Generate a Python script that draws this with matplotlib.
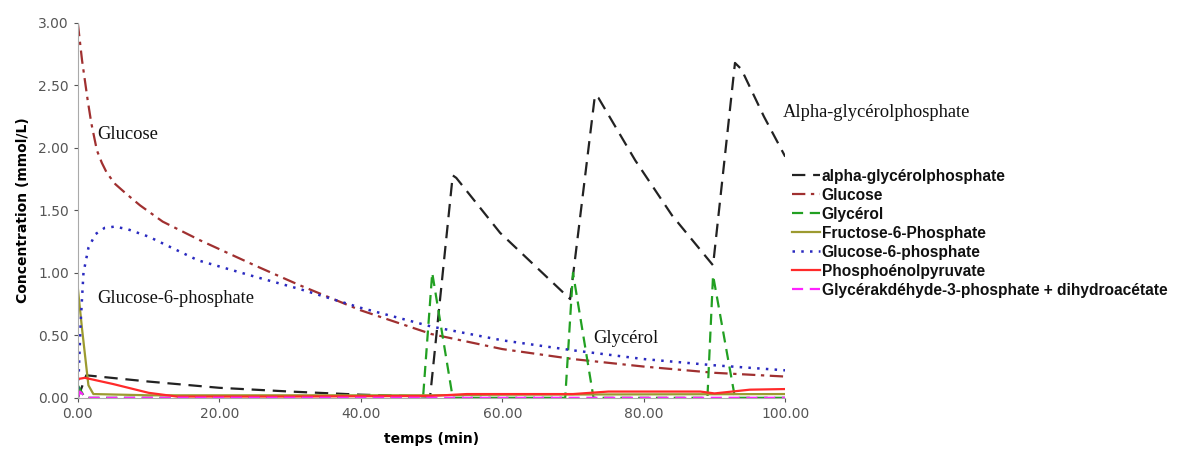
import matplotlib
matplotlib.use("Agg")
import matplotlib.pyplot as plt

# temps (min) / concentration (mmol/L)
agp_t = [0, 1.2, 10, 20, 30, 40, 49.8, 53.0, 53.5, 59.7, 65.3, 69.6, 73.1, 73.6, 78.8, 84.0, 89.8, 92.9, 93.8, 97.0, 100]
agp_c = [0, 0.18, 0.13, 0.08, 0.05, 0.025, 0.01, 1.78, 1.76, 1.32, 1.02, 0.79, 2.42, 2.40, 1.90, 1.46, 1.06, 2.68, 2.63, 2.25, 1.93]

glc_t = [0, 0.3, 0.6, 1.0, 1.4, 1.9, 2.7, 3.4, 4.1, 5.3, 6.9, 8.8, 12, 17.3, 25, 31.4, 40, 50, 60, 70, 80, 90, 100]
glc_c = [3.0, 2.85, 2.70, 2.54, 2.38, 2.20, 1.98, 1.88, 1.80, 1.71, 1.63, 1.54, 1.41, 1.26, 1.06, 0.90, 0.70, 0.51, 0.39, 0.31, 0.25, 0.20, 0.17]

gly_t = [0, 1.0, 48.8, 50.1, 53.0, 68.9, 70.0, 72.9, 89.0, 89.8, 92.9, 100]
gly_c = [0.10, 0.0, 0.0, 1.00, 0.0, 0.0, 1.00, 0.0, 0.0, 0.98, 0.0, 0.0]

f6p_t = [0, 0.6, 1.5, 2.2, 10, 50, 60, 100]
f6p_c = [0.88, 0.55, 0.10, 0.03, 0.02, 0.02, 0.025, 0.03]

g6p_t = [0, 0.4, 0.8, 1.5, 2.5, 3.8, 5.2, 7.0, 10, 17, 25, 31.4, 40, 50, 60, 70, 80, 90, 100]
g6p_c = [0.0, 0.60, 1.00, 1.20, 1.31, 1.36, 1.37, 1.35, 1.29, 1.10, 0.97, 0.87, 0.72, 0.57, 0.46, 0.38, 0.31, 0.26, 0.22]

pep_t = [0, 1.0, 5, 10, 14, 30, 50, 55, 70, 75, 88, 90, 95, 100]
pep_c = [0.15, 0.16, 0.11, 0.04, 0.01, 0.01, 0.015, 0.03, 0.03, 0.05, 0.05, 0.035, 0.065, 0.07]

gap_t = [0, 0.3, 1.2, 100]
gap_c = [0.0, 0.05, 0.0, 0.0]

fig = plt.figure(figsize=(11.79, 4.5), dpi=100)
ax = fig.add_axes([0.066, 0.116, 0.600, 0.833])

ax.plot(agp_t, agp_c, color="#222222", lw=1.6, dashes=(6, 3.5), label="alpha-glycérolphosphate")
ax.plot(glc_t, glc_c, color="#a03030", lw=1.6, dashes=(6, 2.5, 1.5, 2.5), label="Glucose")
ax.plot(gly_t, gly_c, color="#22a022", lw=1.6, dashes=(5, 3), label="Glycérol")
ax.plot(f6p_t, f6p_c, color="#9c9a30", lw=1.6, label="Fructose-6-Phosphate")
ax.plot(g6p_t, g6p_c, color="#2a2ac0", lw=1.8, dashes=(1, 2.5), label="Glucose-6-phosphate")
ax.plot(pep_t, pep_c, color="#ff2a2a", lw=1.6, label="Phosphoénolpyruvate")
ax.plot(gap_t, gap_c, color="#ff22ff", lw=1.6, dashes=(5, 3), label="Glycérakdéhyde-3-phosphate + dihydroacétate")

ax.set_xlim(0, 100)
ax.set_ylim(0, 3.0)
ax.set_xticks([0, 20, 40, 60, 80, 100])
ax.set_yticks([0, 0.5, 1.0, 1.5, 2.0, 2.5, 3.0])
ax.xaxis.set_major_formatter(matplotlib.ticker.FormatStrFormatter("%.2f"))
ax.yaxis.set_major_formatter(matplotlib.ticker.FormatStrFormatter("%.2f"))
ax.tick_params(colors="#555555", labelsize=10, length=3)
for s in ("top", "right"):
    ax.spines[s].set_visible(False)
for s in ("left", "bottom"):
    ax.spines[s].set_color("#aaaaaa")
ax.set_xlabel("temps (min)", fontweight="bold", fontsize=10, labelpad=8)
ax.set_ylabel("Concentration (mmol/L)", fontweight="bold", fontsize=10, labelpad=6)

serif = dict(family="Liberation Serif", fontsize=13.3, color="#111111")
ax.text(2.7, 2.07, "Glucose", **serif)
ax.text(2.7, 0.76, "Glucose-6-phosphate", **serif)
ax.text(72.8, 0.44, "Glycérol", **serif)
ax.text(99.6, 2.25, "Alpha-glycérolphosphate", clip_on=False, **serif)

leg = ax.legend(loc="center left", bbox_to_anchor=(1.01, 0.439), frameon=False,
                borderaxespad=0.0, borderpad=0.0,
                handlelength=1.75, handletextpad=0.15, labelspacing=0.26,
                prop=dict(family="Liberation Sans", weight="bold", size=11.2))
for t in leg.get_texts():
    t.set_color("#111111")

fig.savefig("out.png", dpi=100)
